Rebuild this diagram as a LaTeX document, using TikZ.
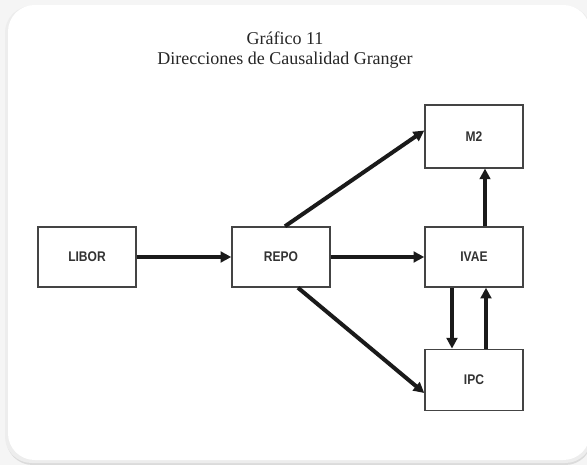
\documentclass[tikz,border=0pt]{standalone}
\usepackage{fontspec}
\setmainfont{Liberation Serif}
\newfontfamily\boxfont{Liberation Sans}
\usetikzlibrary{arrows.meta}
\definecolor{cardbg}{HTML}{F5F5F5}
\definecolor{boxline}{HTML}{444444}
\definecolor{arrowcol}{HTML}{1A1A1A}
\newcommand{\boxlabel}[1]{\scalebox{0.86}[1]{#1}}
\tikzset{
    varbox/.style={draw=boxline, line width=1.1pt, minimum width=73.5pt,
        minimum height=45pt, inner sep=0pt, text=black!80,
        font=\boxfont\bfseries\fontsize{10.5}{12}\selectfont},
    causal/.style={draw=arrowcol, line width=3pt,
        -{Triangle[length=8pt,width=8pt]}}
}

\begin{document}
\begin{tikzpicture}[x=0.75pt, y=-0.75pt]
    % background card
    \useasboundingbox[fill=cardbg] (0,0) rectangle (587,465);
    \fill[black!14, rounded corners=20pt] (6,9) rectangle (592,465);
    \fill[black!7, rounded corners=20pt] (5,6) rectangle (592,463);
    \fill[white, rounded corners=20pt] (8,5) rectangle (590,460);

    % title
    \node[align=center, font=\fontsize{13.5}{15}\selectfont, text=black!85] at (285,50) (title)
        {Gráfico 11\\Direcciones de Causalidad Granger};

    % place nodes
    \node[varbox] at (87, 257)    (libor) {\boxlabel{LIBOR}};
    \node[varbox] at (281, 257)   (repo)  {\boxlabel{REPO}};
    \node[varbox] at (474, 257)   (ivae)  {\boxlabel{IVAE}};
    \node[varbox, minimum height=47pt] at (474, 136.5) (m2) {\boxlabel{M2}};
    \node[varbox, minimum height=46pt] at (474, 380)   (ipc) {\boxlabel{IPC}};

    % draw edges
    \draw[causal] (libor) -- (repo);
    \draw[causal] (repo) -- (ivae);
    \draw[causal] ([xshift=3pt]repo.north) -- ([yshift=4.5pt]m2.west);
    \draw[causal] ([xshift=12.75pt]repo.south) -- ([yshift=-9.75pt]ipc.west);
    \draw[causal] ([xshift=8.25pt]ivae.north) -- ([xshift=8.25pt]m2.south);
    \draw[causal] ([xshift=-16.5pt]ivae.south) -- ([xshift=-16.5pt]ipc.north);
    \draw[causal] ([xshift=9pt]ipc.north) -- ([xshift=9pt]ivae.south);
\end{tikzpicture}
\end{document}
